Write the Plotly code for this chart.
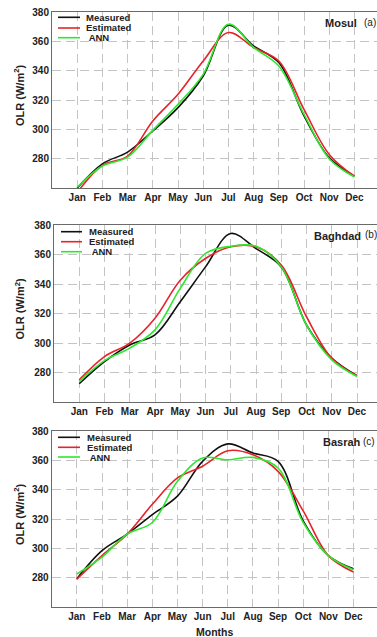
import plotly.graph_objects as go

W, H = 377, 637

months = ["Jan", "Feb", "Mar", "Apr", "May", "Jun", "Jul", "Aug", "Sep", "Oct", "Nov", "Dec"]
month_idx = list(range(1, 13))

# Mosul (a)
mosul_measured = [260, 276.5, 284.5, 298.9, 314.8, 336.4, 371.0, 356.9, 345.5, 309.1, 280.7, 268.0]
mosul_estimated = [257, 275.4, 281.8, 305.7, 323.9, 346.6, 366.0, 355.8, 346.6, 313.6, 282.9, 268.0]
mosul_ann = [260.5, 275.0, 281.0, 299.3, 317.0, 337.5, 371.7, 355.8, 343.2, 310.2, 280.0, 267.5]

# Baghdad (b)
baghdad_measured = [272.4, 287.4, 298.7, 305.5, 328.0, 351.6, 374.2, 364.0, 351.6, 312.2, 289.7, 277.8]
baghdad_estimated = [275.0, 290.8, 299.9, 316.8, 342.6, 357.3, 365.2, 365.2, 352.8, 317.8, 289.7, 277.8]
baghdad_ann = [274.0, 288.1, 296.5, 308.9, 337.0, 360.7, 365.6, 365.6, 351.6, 312.2, 288.6, 277.3]

# Basrah (c)
basrah_measured = [279.3, 298.4, 309.7, 323.0, 335.6, 359.3, 371.2, 365.0, 359.3, 318.7, 295.0, 286.0]
basrah_estimated = [279.0, 295.0, 309.7, 330.0, 348.0, 356.0, 366.5, 363.8, 352.5, 325.5, 295.0, 283.8]
basrah_ann = [282.5, 294.0, 309.7, 317.6, 345.7, 361.6, 360.4, 362.0, 354.8, 317.6, 295.0, 285.4]

series_names = ["Measured", "Estimated", "\u00a0ANN"]
series_colors = ["#111111", "#e8222a", "#2ee82e"]

stations = ["Mosul", "Baghdad", "Basrah"]
labels = ["(a)", "(b)", "(c)"]
panel_data = [
    [mosul_measured, mosul_estimated, mosul_ann],
    [baghdad_measured, baghdad_estimated, baghdad_ann],
    [basrah_measured, basrah_estimated, basrah_ann],
]
y_ticks = [280, 300, 320, 340, 360, 380]

# layout geometry in pixels (left, top, bottom, month spacing)
panels_px = [
    dict(left=52.0, top=12.0, bottom=188.0, step=25.2, leg_x0=58, leg_x1=80, leg_tx=84, leg_y=[17.3, 28.0, 37.7],
         name_x=323, lab_x=362, name_y=23),
    dict(left=54.0, top=225.0, bottom=402.0, step=25.25, leg_x0=61, leg_x1=82, leg_tx=86.5, leg_y=[231.7, 241.7, 251.7],
         name_x=312, lab_x=362.5, name_y=235.7),
    dict(left=51.7, top=431.0, bottom=607.0, step=25.15, leg_x0=58, leg_x1=80, leg_tx=85, leg_y=[437.3, 447.3, 457.0],
         name_x=321, lab_x=361, name_y=442.3),
]

def xp(x):
    return x / W

def yp(y):
    return 1 - y / H

FONT = "Liberation Sans, Arial, sans-serif"
fig = go.Figure()
annotations = []
shapes = []

for i, (pdata, geo) in enumerate(zip(panel_data, panels_px)):
    sfx = "" if i == 0 else str(i + 1)
    for vals, name, col in zip(pdata, series_names, series_colors):
        fig.add_trace(go.Scatter(
            x=month_idx, y=vals, mode="lines", name=name,
            line=dict(color=col, width=1.6, shape="spline", smoothing=1.0),
            xaxis="x" + sfx, yaxis="y" + sfx, showlegend=False, cliponaxis=True,
        ))
    xr = (W - geo["left"]) / geo["step"]
    axis_common = dict(
        showgrid=True, gridcolor="#c4c4c4", gridwidth=1, griddash="9px,5px",
        showline=True, linecolor="#6a6a6a", linewidth=1, zeroline=False,
        ticks="", tickfont=dict(family=FONT, size=10, color="#222222", weight="bold"),
        automargin=False,
    )
    fig.layout["xaxis" + sfx] = dict(
        axis_common, domain=[xp(geo["left"]), 1.0], range=[0, xr],
        tickvals=month_idx, ticktext=months, anchor="y" + sfx, mirror=True,
    )
    fig.layout["yaxis" + sfx] = dict(
        axis_common, domain=[yp(geo["bottom"]), yp(geo["top"])], range=[260, 380],
        tickvals=y_ticks, anchor="x" + sfx,
    )
    # y-axis title
    annotations.append(dict(
        x=xp(19), y=yp((geo["top"] + geo["bottom"]) / 2 - 4), xref="paper", yref="paper",
        text="<b>OLR (W/m<sup>2</sup>)</b>", textangle=-90, showarrow=False,
        xanchor="center", yanchor="middle", font=dict(family=FONT, size=11, color="#222222"),
    ))
    # station name and label
    annotations.append(dict(
        x=xp(geo["name_x"]), y=yp(geo["name_y"]), xref="paper", yref="paper",
        text="<b>" + stations[i] + "</b>", showarrow=False, xanchor="left", yanchor="middle",
        font=dict(family=FONT, size=11, color="#222222"),
    ))
    annotations.append(dict(
        x=xp(geo["lab_x"]), y=yp(geo["name_y"] - 1), xref="paper", yref="paper",
        text=labels[i], showarrow=False, xanchor="left", yanchor="middle",
        font=dict(family=FONT, size=10, color="#222222"),
    ))
    # legend
    for name, col, ly in zip(series_names, series_colors, geo["leg_y"]):
        shapes.append(dict(type="line", xref="paper", yref="paper",
                           x0=xp(geo["leg_x0"]), x1=xp(geo["leg_x1"]), y0=yp(ly), y1=yp(ly),
                           line=dict(color=col, width=1.6)))
        annotations.append(dict(
            x=xp(geo["leg_tx"]), y=yp(ly), xref="paper", yref="paper",
            text="<b>" + name + "</b>", showarrow=False, xanchor="left", yanchor="middle",
            font=dict(family=FONT, size=9.5, color="#222222"),
        ))

annotations.append(dict(
    x=xp(214.5), y=yp(631.7), xref="paper", yref="paper", text="<b>Months</b>",
    showarrow=False, xanchor="center", yanchor="middle",
    font=dict(family=FONT, size=10.5, color="#222222"),
))

fig.update_layout(
    width=W, height=H, margin=dict(l=0, r=0, t=0, b=0),
    paper_bgcolor="white", plot_bgcolor="white",
    annotations=annotations, shapes=shapes, showlegend=False,
)

fig.write_html("out.html")
